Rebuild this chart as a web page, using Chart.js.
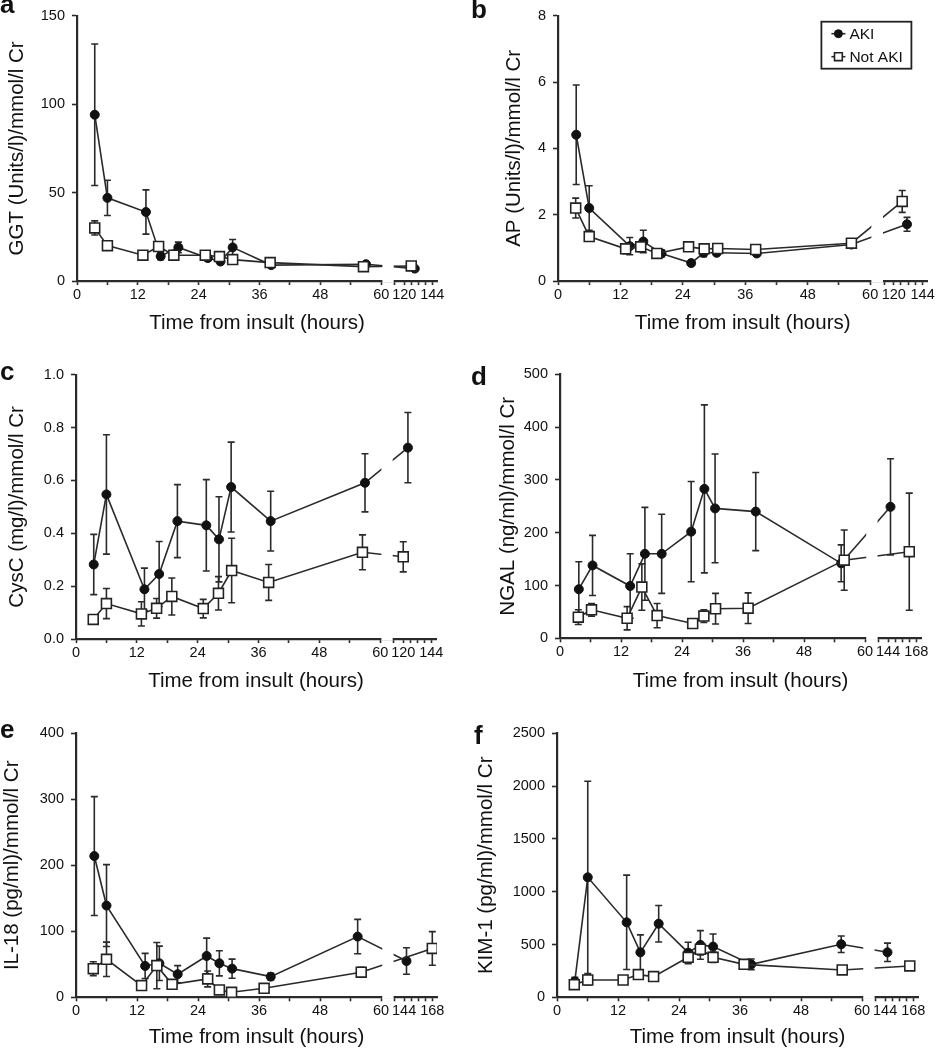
<!DOCTYPE html>
<html>
<head>
<meta charset="utf-8">
<title>Biomarkers vs time from insult</title>
<script src="https://cdn.jsdelivr.net/npm/chart.js"></script>
<style>
    body { margin: 0; background: #fff; }
    #wrap { position: relative; width: 936px; height: 1050px; overflow: hidden; }
    #wrap canvas { position: absolute; }
    .tag {
        position: absolute;
        font-family: 'Liberation Sans', Arial, sans-serif;
        font-weight: bold;
        font-size: 26px;
        line-height: 1;
        color: #111;
    }
</style>
</head>
<body>
<div id="wrap"></div>
<script>
    // ---- data: hours after insult, mean, error ----
    // a: GGT
    const ggtAkiHours = [3.5, 6.0, 13.6, 16.5, 20.0, 25.8, 28.3, 30.7, 38.3, 57.0, 129];
    const ggtAkiMean  = [94, 47, 39, 14, 19, 13, 11, 19, 9, 9.5, 7];
    const ggtAkiErr   = [40, 10, 12.5, 2, 3, 1.5, 1.5, 4.5, 1, 1, 1];
    const ggtNotHours = [3.5, 6.0, 13.0, 16.1, 19.1, 25.3, 28.1, 30.7, 38.1, 56.5, 126];
    const ggtNotMean  = [30, 20, 14.6, 19.5, 14.6, 14.6, 13.8, 12.1, 10.4, 8.1, 8.5];
    const ggtNotErr   = [4, 1.5, 1.5, 2, 1.5, 1.5, 1.5, 1.5, 1, 1, 1];

    // b: AP
    const apAkiHours = [3.5, 6.0, 13.8, 16.4, 19.9, 25.6, 28.0, 30.5, 38.2, 56.4, 131];
    const apAkiMean  = [4.41, 2.2, 1.05, 1.19, 0.83, 0.54, 0.85, 0.85, 0.83, 1.1, 1.71];
    const apAkiErr   = [1.5, 0.67, 0.26, 0.34, 0.1, 0.05, 0.12, 0.08, 0.08, 0.1, 0.21];
    const apNotHours = [3.4, 6.0, 13.0, 15.9, 19.0, 25.1, 28.1, 30.7, 38.0, 56.4, 127];
    const apNotMean  = [2.2, 1.34, 0.97, 1.03, 0.83, 1.03, 0.97, 0.98, 0.95, 1.14, 2.4];
    const apNotErr   = [0.3, 0.1, 0.15, 0.15, 0.08, 0.05, 0.14, 0.08, 0.06, 0.12, 0.33];

    // c: CysC
    const cysAkiHours = [3.5, 6.0, 13.5, 16.4, 20.0, 25.7, 28.2, 30.6, 38.4, 57.0, 124];
    const cysAkiMean  = [0.282, 0.547, 0.188, 0.246, 0.446, 0.430, 0.377, 0.575, 0.446, 0.591, 0.724];
    const cysAkiErr   = [0.114, 0.226, 0.08, 0.123, 0.138, 0.173, 0.161, 0.17, 0.113, 0.11, 0.133];
    const cysNotHours = [3.4, 6.0, 12.9, 15.9, 18.9, 25.1, 28.1, 30.7, 38.0, 56.5, 120];
    const cysNotMean  = [0.074, 0.134, 0.095, 0.116, 0.161, 0.115, 0.173, 0.259, 0.214, 0.328, 0.311];
    const cysNotErr   = [0.01, 0.057, 0.046, 0.037, 0.07, 0.035, 0.063, 0.122, 0.068, 0.066, 0.057];

    // d: NGAL
    const ngalAkiHours = [3.7, 6.4, 13.8, 16.7, 20.0, 25.8, 28.4, 30.5, 38.5, 55.3, 146];
    const ngalAkiMean  = [93, 138, 99, 160, 160, 202, 283, 246, 240, 142, 249];
    const ngalAkiErr   = [52, 57, 61, 88, 75, 95, 159, 103, 74, 35, 91];
    const ngalNotHours = [3.6, 6.2, 13.2, 16.1, 19.1, 26.1, 28.3, 30.6, 37.0, 55.9, 162];
    const ngalNotMean  = [40, 54, 38, 97, 43, 28, 42, 56, 57, 148, 164];
    const ngalNotErr   = [14, 12, 22, 44, 23, 8, 12, 29, 29, 57, 111];

    // e: IL-18
    const il18AkiHours = [3.6, 6.0, 13.6, 16.4, 20.0, 25.7, 28.2, 30.7, 38.3, 55.4, 146];
    const il18AkiMean  = [214, 139, 47.5, 51.5, 35, 62.6, 51.5, 43.4, 31.3, 92, 55];
    const il18AkiErr   = [90, 62, 19, 26, 13, 27, 19, 14.5, 5, 26, 20];
    const il18NotHours = [3.4, 6.0, 12.9, 15.9, 18.9, 25.9, 28.2, 30.6, 37.0, 56.1, 168];
    const il18NotMean  = [43.4, 57.6, 17.7, 48, 19.7, 27.8, 11.1, 7.6, 13.6, 38, 74];
    const il18NotErr   = [10.5, 26, 4, 35, 5, 12, 3, 2, 3, 7.5, 25.5];

    // f: KIM-1
    const kimAkiHours = [3.5, 6.05, 13.7, 16.4, 20.0, 25.8, 28.2, 30.7, 38.2, 55.9, 146];
    const kimAkiMean  = [150, 1136, 710, 426, 697, 423, 496, 480, 312, 502, 426];
    const kimAkiErr   = [40, 910, 447, 165, 173, 98, 135, 120, 50, 78, 87];
    const kimNotHours = [3.4, 6.05, 13.0, 16.0, 19.0, 25.8, 28.2, 30.7, 36.8, 56.1, 165];
    const kimNotMean  = [120, 164, 164, 215, 196, 379, 455, 379, 312, 259, 297];
    const kimNotErr   = [20, 47, 20, 20, 20, 60, 55, 50, 25, 15, 20];

    // tick labels on the broken time axis
    const mainLabels = [0, 12, 24, 36, 48, 60];
    const lateLabelsA = [120, 144];
    const lateLabelsB = [144, 168];

    const seriesNames = ['AKI', 'Not AKI'];

    // ---- look ----
    const FONT = "'Liberation Sans', Arial, sans-serif";
    const INK = '#2a2a2a';
    Chart.defaults.font.family = FONT;
    Chart.defaults.color = '#111';

    // linear scale with a gap between 60 h and the late segment
    class BrokenScale extends Chart.LinearScale {
        frac(v) {
            const b = this.options.brk;
            if (v <= b.cut) return v / b.cut * b.fm;
            if (v >= b.s0) return b.fm + b.fg + (v - b.s0) / (b.s1 - b.s0) * (1 - b.fm - b.fg);
            return b.fm + (v - b.cut) / (b.s0 - b.cut) * b.fg;
        }
        getPixelForValue(v) {
            if (v === null || v === undefined) return NaN;
            return this.getPixelForDecimal(this.frac(v));
        }
        getValueForPixel(px) {
            const b = this.options.brk;
            const d = this.getDecimalForPixel(px);
            if (d <= b.fm) return d / b.fm * b.cut;
            if (d >= b.fm + b.fg) return b.s0 + (d - b.fm - b.fg) / (1 - b.fm - b.fg) * (b.s1 - b.s0);
            return b.cut + (d - b.fm) / b.fg * (b.s0 - b.cut);
        }
    }
    BrokenScale.id = 'broken';
    BrokenScale.defaults = {};
    Chart.register(BrokenScale);

    // error bars, drawn under the lines and markers
    const errorBars = {
        id: 'errorBars',
        beforeDatasetsDraw(chart) {
            const ctx = chart.ctx;
            const ys = chart.scales.y;
            ctx.save();
            ctx.strokeStyle = INK;
            ctx.lineWidth = 1.6;
            chart.data.datasets.forEach((ds, i) => {
                const meta = chart.getDatasetMeta(i);
                meta.data.forEach((pt, j) => {
                    const v = ds.data[j].y, e = ds.errors[j];
                    const top = ys.getPixelForValue(v + e);
                    const bot = ys.getPixelForValue(v - e);
                    ctx.beginPath();
                    ctx.moveTo(pt.x, top); ctx.lineTo(pt.x, bot);
                    ctx.moveTo(pt.x - 3.5, top); ctx.lineTo(pt.x + 3.5, top);
                    ctx.moveTo(pt.x - 3.5, bot); ctx.lineTo(pt.x + 3.5, bot);
                    ctx.stroke();
                });
            });
            ctx.restore();
        }
    };

    // blank out the axis break (also interrupts the connecting lines)
    const gapMask = {
        id: 'gapMask',
        afterDatasetsDraw(chart) {
            const xs = chart.scales.x;
            const b = xs.options.brk;
            const a = chart.chartArea;
            const x1 = xs.getPixelForValue(b.cut) + 1.2;
            const x2 = xs.getPixelForValue(b.s0) - 1.2;
            const ctx = chart.ctx;
            ctx.save();
            ctx.fillStyle = '#fff';
            ctx.fillRect(x1, a.top - 2, x2 - x1, a.bottom - a.top + 3.5);
            ctx.restore();
        }
    };

    // boxed legend inside panel b
    const legendBox = {
        id: 'legendBox',
        afterDraw(chart) {
            const a = chart.chartArea;
            const ctx = chart.ctx;
            const w = 90, h = 47;
            const x = a.right - 16 - w, y = a.top + 6;
            ctx.save();
            ctx.strokeStyle = '#222';
            ctx.lineWidth = 1.8;
            ctx.strokeRect(x, y, w, h);
            ctx.font = '15.5px ' + FONT;
            ctx.textBaseline = 'middle';
            chart.data.datasets.forEach((ds, i) => {
                const cy = y + 12 + i * 23;
                ctx.strokeStyle = INK;
                ctx.lineWidth = 1.6;
                ctx.beginPath();
                ctx.moveTo(x + 10, cy); ctx.lineTo(x + 24, cy);
                ctx.stroke();
                ctx.fillStyle = ds.pointBackgroundColor;
                ctx.strokeStyle = ds.pointBorderColor;
                ctx.lineWidth = ds.pointBorderWidth;
                Chart.helpers.drawPoint(ctx, {
                    pointStyle: ds.pointStyle, rotation: 0,
                    radius: ds.pointStyle === 'rect' ? 5.5 : 4,
                    borderWidth: ds.pointBorderWidth
                }, x + 17, cy);
                ctx.fillStyle = '#111';
                ctx.fillText(ds.label, x + 28, cy + 1);
            });
            ctx.restore();
        }
    };

    // ---- panels: data refs + where each one sits on the page ----
    const panels = [
        { tag: 'a', tagPos: [0, -9], title: 'GGT (Units/l)/mmol/l Cr', yMax: 150, yStep: 50, dp: 0,
          late: lateLabelsA,
          aki: [ggtAkiHours, ggtAkiMean, ggtAkiErr], not: [ggtNotHours, ggtNotMean, ggtNotErr],
          box: [0, 0, 468, 345], area: [77, 15.7, 437, 281], titleX: 17, axisH: 55, legend: false },
        { tag: 'b', tagPos: [471, -4], title: 'AP (Units/l)/mmol/l Cr', yMax: 8, yStep: 2, dp: 0,
          late: lateLabelsA,
          aki: [apAkiHours, apAkiMean, apAkiErr], not: [apNotHours, apNotMean, apNotErr],
          box: [468, 0, 468, 345], area: [558, 8.5, 928, 281], titleX: 514, axisH: 55, legend: true },
        { tag: 'c', tagPos: [0, 358], title: 'CysC (mg/l)/mmol/l Cr', yMax: 1.0, yStep: 0.2, dp: 1,
          late: lateLabelsA,
          aki: [cysAkiHours, cysAkiMean, cysAkiErr], not: [cysNotHours, cysNotMean, cysNotErr],
          box: [0, 345, 468, 355], area: [76, 374.7, 436, 639], titleX: 17, axisH: 55, legend: false },
        { tag: 'd', tagPos: [471, 363], title: 'NGAL (ng/ml)/mmol/l Cr', yMax: 500, yStep: 100, dp: 0,
          late: lateLabelsB,
          aki: [ngalAkiHours, ngalAkiMean, ngalAkiErr], not: [ngalNotHours, ngalNotMean, ngalNotErr],
          box: [468, 345, 468, 355], area: [560, 374.3, 921, 638.3], titleX: 508, axisH: 55, legend: false },
        { tag: 'e', tagPos: [0, 716], title: 'IL-18 (pg/ml)/mmol/l Cr', yMax: 400, yStep: 100, dp: 0,
          late: lateLabelsB,
          aki: [il18AkiHours, il18AkiMean, il18AkiErr], not: [il18NotHours, il18NotMean, il18NotErr],
          box: [0, 700, 468, 350], area: [76, 733.3, 437, 997.3], titleX: 12.5, axisH: 52, legend: false },
        { tag: 'f', tagPos: [474, 722], title: 'KIM-1 (pg/ml)/mmol/l Cr', yMax: 2500, yStep: 500, dp: 0,
          late: lateLabelsB,
          aki: [kimAkiHours, kimAkiMean, kimAkiErr], not: [kimNotHours, kimNotMean, kimNotErr],
          box: [468, 700, 468, 350], area: [557, 733.3, 918, 997.3], titleX: 486, axisH: 52, legend: false }
    ];

    const wrap = document.getElementById('wrap');
    const TITLE_SIZE = 20.5;
    const HALF_TITLE = TITLE_SIZE * 1.2 / 2;

    function points(hours, vals) {
        return hours.map((h, i) => ({ x: h, y: vals[i] }));
    }

    panels.forEach(p => {
        const [bx, by, bw, bh] = p.box;
        const [al, at, ar, ab] = p.area;
        const padLeft = Math.max(0, p.titleX - bx - HALF_TITLE);
        const yWidth = al - bx - padLeft;
        const padding = {
            left: padLeft,
            right: bx + bw - ar,
            top: at - by,
            bottom: by + bh - ab - p.axisH
        };

        const canvas = document.createElement('canvas');
        canvas.width = bw;
        canvas.height = bh;
        canvas.style.left = bx + 'px';
        canvas.style.top = by + 'px';
        wrap.appendChild(canvas);

        const tag = document.createElement('div');
        tag.className = 'tag';
        tag.textContent = p.tag;
        tag.style.left = p.tagPos[0] + 'px';
        tag.style.top = p.tagPos[1] + 'px';
        wrap.appendChild(tag);

        const first = p.late[0], last = p.late[p.late.length - 1];
        const brk = { cut: 60, s0: first - 8, s1: last + 4, fm: 0.845, fg: 0.038 };
        const tickVals = [];
        for (let h = 0; h <= 60; h += 6) tickVals.push(h);
        tickVals.push(brk.s0);
        for (let h = first; h <= last; h += 6) tickVals.push(h);
        const labelVals = mainLabels.concat(p.late);

        const plugins = [errorBars, gapMask];
        if (p.legend) plugins.push(legendBox);

        new Chart(canvas, {
            type: 'line',
            data: {
                datasets: [
                    {
                        label: seriesNames[0],
                        data: points(p.aki[0], p.aki[1]),
                        errors: p.aki[2],
                        order: 1,
                        borderColor: INK,
                        borderWidth: 1.6,
                        pointStyle: 'circle',
                        pointRadius: 4.5,
                        pointBackgroundColor: '#111',
                        pointBorderColor: '#111',
                        pointBorderWidth: 1
                    },
                    {
                        label: seriesNames[1],
                        data: points(p.not[0], p.not[1]),
                        errors: p.not[2],
                        order: 0,
                        borderColor: INK,
                        borderWidth: 1.6,
                        pointStyle: 'rect',
                        pointRadius: 7,
                        pointBackgroundColor: '#fff',
                        pointBorderColor: '#222',
                        pointBorderWidth: 1.6
                    }
                ]
            },
            options: {
                responsive: false,
                animation: false,
                devicePixelRatio: 1,
                layout: { padding: padding },
                plugins: {
                    legend: { display: false },
                    tooltip: { enabled: false },
                    title: { display: false }
                },
                scales: {
                    x: {
                        type: 'broken',
                        brk: brk,
                        min: 0,
                        max: brk.s1,
                        afterBuildTicks: s => { s.ticks = tickVals.map(v => ({ value: v })); },
                        afterFit: s => { s.height = p.axisH; },
                        ticks: {
                            autoSkip: false,
                            maxRotation: 0,
                            minRotation: 0,
                            padding: 1,
                            font: { size: 14.5 },
                            color: '#111',
                            callback: v => labelVals.includes(v) ? String(v) : ''
                        },
                        grid: {
                            drawOnChartArea: false,
                            drawTicks: true,
                            tickLength: 4,
                            tickWidth: 1.6,
                            tickColor: INK
                        },
                        border: { color: INK, width: 2.2 },
                        title: {
                            display: true,
                            text: 'Time from insult (hours)',
                            font: { size: TITLE_SIZE },
                            color: '#111',
                            padding: 0
                        }
                    },
                    y: {
                        type: 'linear',
                        min: 0,
                        max: p.yMax,
                        afterFit: s => { s.width = yWidth; },
                        ticks: {
                            stepSize: p.yStep,
                            padding: 7,
                            font: { size: 14.5 },
                            color: '#111',
                            callback: v => v.toFixed(p.dp)
                        },
                        grid: {
                            drawOnChartArea: false,
                            drawTicks: true,
                            tickLength: 5,
                            tickWidth: 1.6,
                            tickColor: INK
                        },
                        border: { color: INK, width: 2.2 },
                        title: {
                            display: true,
                            text: p.title,
                            font: { size: TITLE_SIZE },
                            color: '#111',
                            padding: 0
                        }
                    }
                }
            },
            plugins: plugins
        });
    });
</script>
</body>
</html>
